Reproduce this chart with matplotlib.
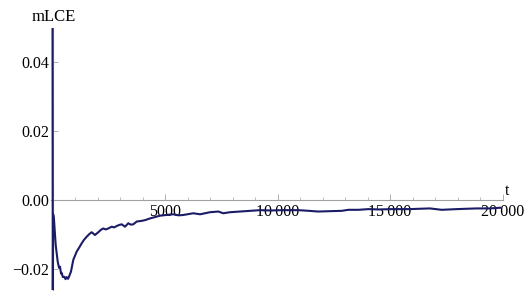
import matplotlib
matplotlib.use("Agg")
import matplotlib.pyplot as plt
from matplotlib.ticker import MultipleLocator, FixedLocator

# data
t = [0, 12, 30, 67, 142, 231, 290, 333, 380, 409, 460, 524, 580, 631, 690, 733, 822,
     924, 1000, 1076, 1190, 1298, 1400, 1520, 1640, 1742, 1889, 1960, 2036, 2150,
     2258, 2370, 2480, 2631, 2740, 2853, 2960, 3076, 3222, 3369, 3480, 3591, 3742,
     3964, 4111, 4333, 4560, 4778, 5050, 5369, 5600, 5813, 6258, 6556, 7000, 7369,
     7591, 7889, 8333, 8778, 9222, 9700, 10200, 10924, 11400, 11813, 12300, 12853,
     13147, 13600, 14036, 14500, 15076, 15889, 16300, 16778, 17298, 17964, 18400,
     18853, 19444, 19900]
mlce = [0.060, -0.030, -0.004, -0.0056, -0.0129, -0.0177, -0.0195, -0.0192, -0.0212,
        -0.0210, -0.0222, -0.0221, -0.0228, -0.0222, -0.0227, -0.0221, -0.0206,
        -0.0172, -0.0160, -0.0148, -0.0136, -0.0124, -0.0114, -0.0105, -0.0097,
        -0.0092, -0.0100, -0.0096, -0.0092, -0.0085, -0.0081, -0.0084, -0.0081,
        -0.0076, -0.0078, -0.0074, -0.0071, -0.0069, -0.0076, -0.0066, -0.0070,
        -0.0069, -0.0061, -0.0059, -0.0057, -0.0052, -0.0048, -0.0044, -0.0042,
        -0.0040, -0.0043, -0.0042, -0.0037, -0.0040, -0.0034, -0.0032, -0.0037,
        -0.0034, -0.0032, -0.0030, -0.0028, -0.0029, -0.0028, -0.0028, -0.0030,
        -0.0032, -0.0031, -0.0030, -0.0027, -0.0027, -0.0025, -0.0026, -0.0025,
        -0.0025, -0.0024, -0.0023, -0.0027, -0.0025, -0.0024, -0.0023, -0.0023,
        -0.0021]

x_major = [5000, 10000, 15000, 20000]
x_labels = ["5000", "10\u2009000", "15\u2009000", "20\u2009000"]
y_major = [-0.02, 0.00, 0.02, 0.04]
y_labels = ["\u22120.02", "0.00", "0.02", "0.04"]

W, H = 526, 292
fig = plt.figure(figsize=(W / 100, H / 100), dpi=100)
pxper = 450.0 / 20000
xmin = -80
x0, x1 = 52.5 + xmin * pxper, 502.5
ytop, ybot = 28.0, 289.5
ax = fig.add_axes([x0 / W, 1 - ybot / H, (x1 - x0) / W, (ybot - ytop) / H])
ax.set_xlim(xmin, 20000)
ax.set_ylim(-0.0258, 0.05)

axcol = "#a0a0a0"
for s in ["top", "right"]:
    ax.spines[s].set_visible(False)
ax.spines["left"].set_position(("data", 0))
ax.spines["bottom"].set_position(("data", 0))
for s in ["left", "bottom"]:
    ax.spines[s].set_color(axcol)
    ax.spines[s].set_linewidth(0.8)

ax.plot(t, mlce, color="#1c1c66", lw=1.5, zorder=3)

font = {"family": "Liberation Serif", "size": 11.5}
ax.xaxis.set_major_locator(FixedLocator(x_major))
ax.set_xticklabels(x_labels, **font)
ax.xaxis.set_minor_locator(MultipleLocator(1000))
ax.yaxis.set_major_locator(FixedLocator(y_major))
ax.set_yticklabels(y_labels, **font)

ax.tick_params(axis="x", which="major", direction="in", length=4.5, width=0.6,
               color=axcol, pad=2.5)
ax.tick_params(axis="x", which="minor", direction="in", length=2.5, width=0.5,
               color=axcol)
ax.tick_params(axis="y", which="major", direction="in", length=3.5, width=0.6,
               color=axcol, pad=2.5)
for lab in ax.get_xticklabels():
    lab.set_zorder(4)

fig.text(53.5 / W, 1 - 17 / H, "mLCE", ha="center", va="center",
         fontfamily="Liberation Serif", fontsize=12)
fig.text(507 / W, 1 - 191 / H, "t", ha="center", va="center",
         fontfamily="Liberation Serif", fontsize=11.5)

fig.savefig("out.png", dpi=100)
